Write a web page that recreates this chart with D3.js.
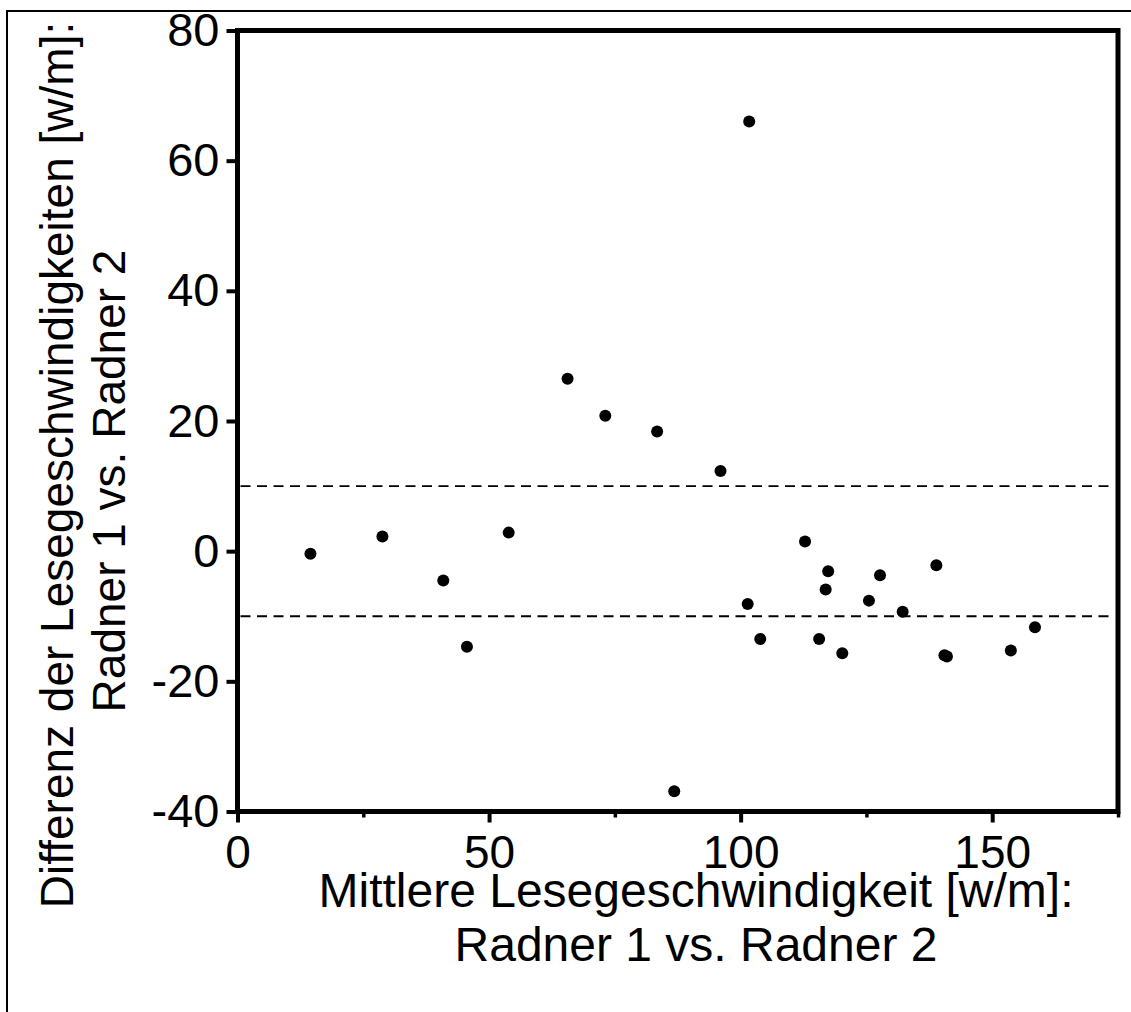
<!DOCTYPE html>
<html>
<head>
<meta charset="utf-8">
<script src="https://cdn.jsdelivr.net/npm/d3@7"></script>
<style>
  html, body { margin: 0; padding: 0; background: #fff; }
  svg { display: block; font-family: "Liberation Sans", Arial, sans-serif; }
</style>
</head>
<body>
<div id="chart"></div>
<script>
// Mean reading speed (x) and difference (y), Radner 1 vs. Radner 2
const meanSpeed = [14.5, 28.8, 40.9, 45.6, 53.9, 65.6, 73.1, 83.4, 86.8, 96.0,
  101.7, 101.4, 103.9, 112.8, 115.6, 116.9, 117.4, 120.2, 125.5, 127.7,
  132.2, 138.9, 140.5, 141.0, 153.7, 158.5];
const diffSpeed = [-0.4, 2.25, -4.5, -14.7, 2.85, 26.5, 20.8, 18.4, -36.9, 12.3,
  66.0, -8.1, -13.5, 1.5, -13.5, -5.9, -3.1, -15.7, -7.6, -3.7,
  -9.3, -2.15, -16.0, -16.2, -15.25, -11.7];

const xTicks = [0, 50, 100, 150];
const xMinorTicks = [25, 75, 125, 175];
const yTicks = [80, 60, 40, 20, 0, -20, -40];
const limits = [10, -10];

const xTitle = ["Mittlere Lesegeschwindigkeit [w/m]:", "Radner 1 vs. Radner 2"];
const yTitle = ["Differenz der Lesegeschwindigkeiten [w/m]:", "Radner 1 vs. Radner 2"];

const width = 1131;
const height = 1012;
const font = "Liberation Sans, Arial, sans-serif";

const svg = d3.select("#chart")
  .append("svg")
  .attr("width", width)
  .attr("height", height);

// outer frame (runs off the right and bottom edges)
svg.append("rect")
  .attr("x", 7)
  .attr("y", 11)
  .attr("width", 1200)
  .attr("height", 1100)
  .attr("fill", "none")
  .attr("stroke", "#000")
  .attr("stroke-width", 2);

const x = d3.scaleLinear().domain([0, 175]).range([237.5, 1118]);
const y = d3.scaleLinear().domain([-40, 80]).range([811.5, 30.5]);

// limit lines
svg.append("g")
  .selectAll("line")
  .data(limits)
  .join("line")
  .attr("x1", x(0) + 3)
  .attr("x2", x(175) - 3)
  .attr("y1", (d) => y(d))
  .attr("y2", (d) => y(d))
  .attr("stroke", "#000")
  .attr("stroke-width", 1.8)
  .attr("stroke-dasharray", "10,6.5");

// points
svg.append("g")
  .selectAll("circle")
  .data(meanSpeed)
  .join("circle")
  .attr("cx", (d) => x(d))
  .attr("cy", (d, i) => y(diffSpeed[i]))
  .attr("r", 6)
  .attr("fill", "#000");

// x axis
const xAxis = svg.append("g")
  .attr("transform", `translate(0, ${y(-40)})`)
  .call(d3.axisBottom(x).tickValues(xTicks).tickFormat((d) => String(d))
    .tickSize(11).tickSizeOuter(0).tickPadding(13));
xAxis.select(".domain").remove();
xAxis.selectAll(".tick line").attr("stroke-width", 4);
xAxis.selectAll(".tick text")
  .attr("font-size", 46)
  .attr("fill", "#000")
  .attr("font-family", font);

svg.append("g")
  .attr("transform", `translate(0, ${y(-40)})`)
  .call(d3.axisBottom(x).tickValues(xMinorTicks).tickSize(6).tickSizeOuter(0).tickFormat(""))
  .call((g) => g.select(".domain").remove())
  .call((g) => g.selectAll(".tick line").attr("stroke-width", 3.5));

// y axis
const yAxis = svg.append("g")
  .attr("transform", `translate(${x(0)}, 0)`)
  .call(d3.axisLeft(y).tickValues(yTicks).tickFormat((d) => String(d))
    .tickSize(11).tickSizeOuter(0).tickPadding(7));
yAxis.select(".domain").remove();
yAxis.selectAll(".tick line").attr("stroke-width", 4);
yAxis.selectAll(".tick text")
  .attr("font-size", 47)
  .attr("fill", "#000")
  .attr("font-family", font);

// plot box
svg.append("rect")
  .attr("x", x(0))
  .attr("y", y(80))
  .attr("width", x(175) - x(0))
  .attr("height", y(-40) - y(80))
  .attr("fill", "none")
  .attr("stroke", "#000")
  .attr("stroke-width", 5);

// axis titles
svg.append("g")
  .selectAll("text")
  .data(xTitle)
  .join("text")
  .attr("x", 696)
  .attr("y", (d, i) => 907 + i * 54)
  .attr("text-anchor", "middle")
  .attr("font-size", 48)
  .text((d) => d);

svg.append("g")
  .selectAll("text")
  .data(yTitle)
  .join("text")
  .attr("transform", (d, i) => `translate(${73 + i * 52}, ${i === 0 ? 465 : 481}) rotate(-90)`)
  .attr("text-anchor", "middle")
  .attr("font-size", 46)
  .text((d) => d);
</script>
</body>
</html>
